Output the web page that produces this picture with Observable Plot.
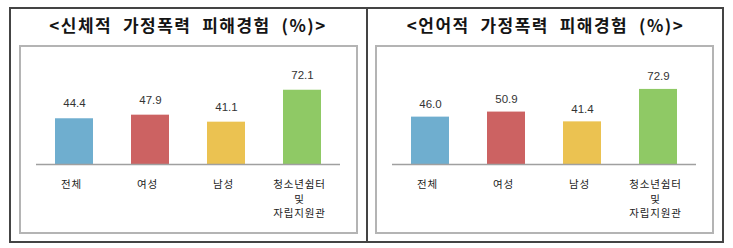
<!DOCTYPE html>
<html>
<head>
<meta charset="utf-8">
<script src="https://cdn.jsdelivr.net/npm/d3@7"></script>
<script src="https://cdn.jsdelivr.net/npm/@observablehq/plot@0.6"></script>
<style>
  html, body { margin: 0; padding: 0; background: #fff; }
  #root { position: relative; width: 733px; height: 248px; overflow: hidden; font-family: "Noto Sans CJK KR", sans-serif; }
  .frame { position: absolute; box-sizing: border-box; }
  .title { position: absolute; top: 12px; text-align: center; font-weight: bold; font-size: 17px; letter-spacing: 1.5px; color: #141414; white-space: pre; line-height: 26px; }
  .chart { position: absolute; top: 45px; }
  .chart g[aria-label="x-axis tick label"] text { letter-spacing: 0.8px; }
</style>
</head>
<body>
<div id="root">
  <div class="frame" style="left:9px;top:7px;width:715px;height:236px;border:2px solid #444;"></div>
  <div class="frame" style="left:366px;top:7px;width:2px;height:236px;background:#444;"></div>
  <div class="frame" style="left:19px;top:45px;width:339px;height:189px;border:2px solid #b4b4b4;"></div>
  <div class="frame" style="left:375px;top:45px;width:339px;height:189px;border:2px solid #b4b4b4;"></div>
  <div class="title" id="t1" style="left:9px;width:358px;"></div>
  <div class="title" id="t2" style="left:367px;width:357px;"></div>
  <div class="chart" id="c1" style="left:19px;"></div>
  <div class="chart" id="c2" style="left:375px;"></div>
</div>
<script>
const categories = ["전체", "여성", "남성", "청소년쉼터\n및\n자립지원관"];
const physicalValues = [44.4, 47.9, 41.1, 72.1];
const verbalValues = [46.0, 50.9, 41.4, 72.9];
const barColors = ["#6faecf", "#cc6262", "#ebc251", "#8fc965"];
const titles = ["<신체적  가정폭력  피해경험  (%)>", "<언어적  가정폭력  피해경험  (%)>"];

function chart(values, dy) {
  const data = categories.map((c, i) => ({category: c, value: values[i]}));
  return Plot.plot({
    width: 338,
    height: 188,
    marginLeft: 17,
    marginRight: 17,
    marginTop: 16,
    marginBottom: 69,
    x: {domain: categories, paddingInner: 0.5, paddingOuter: 0.25, label: null, axis: null},
    y: {domain: [0, 100], axis: null},
    color: {domain: categories, range: barColors},
    style: {fontFamily: "'Noto Sans CJK KR', sans-serif", background: "transparent", overflow: "visible"},
    marks: [
      Plot.barY(data, {x: "category", y: "value", fill: "category"}),
      Plot.ruleY([0], {stroke: "#a0a0a0", strokeWidth: 1.5}),
      Plot.text(data, {x: "category", y: "value", text: d => d3.format(".1f")(d.value), dy, fontSize: 11.5, fill: "#333", fontFamily: "'Liberation Sans', sans-serif"}),
      Plot.axisX({domain: categories, tickSize: 0, tickPadding: 13, fontSize: 10.5, lineHeight: 1.4, fill: "#222", label: null, dx: -3})
    ]
  });
}

document.getElementById("t1").textContent = titles[0];
document.getElementById("t2").textContent = titles[1];
document.getElementById("c1").appendChild(chart(physicalValues, -15));
document.getElementById("c2").appendChild(chart(verbalValues, -13));
</script>
</body>
</html>
